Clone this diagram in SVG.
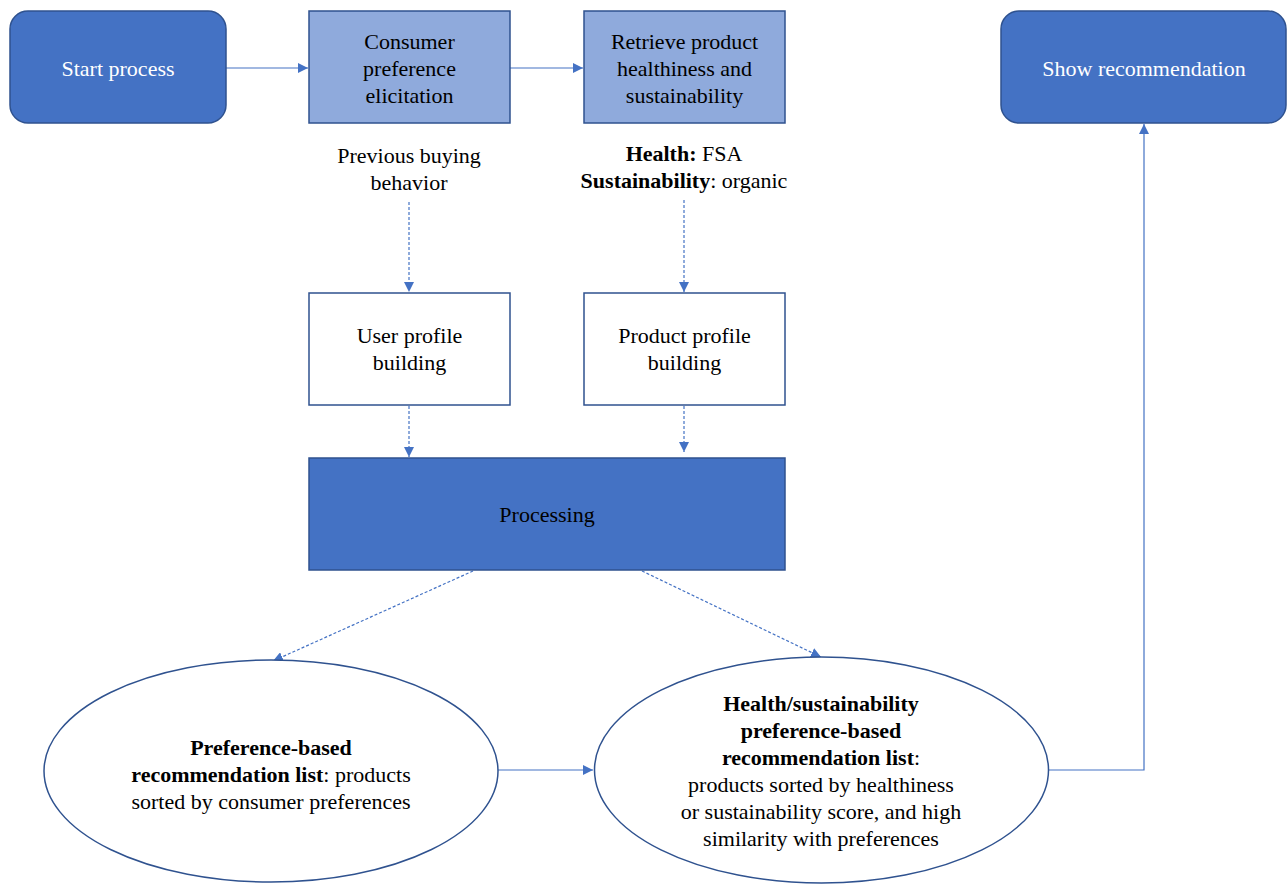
<svg xmlns="http://www.w3.org/2000/svg" width="1287" height="885" viewBox="0 0 1287 885">
<defs>
<style>
text{font-size:22px;text-anchor:middle;fill:#000}
.w{fill:#fff}
.b{font-weight:bold}
.dark{fill:#4472C4;stroke:#2F528F;stroke-width:1.5}
.light{fill:#8FAADC;stroke:#2F528F;stroke-width:1.5}
.white{fill:#fff;stroke:#2F528F;stroke-width:1.5}
.c{fill:none;stroke:#4472C4;stroke-width:1.2}
.d{stroke-dasharray:3 2}
</style>
<marker id="ah" viewBox="0 0 10 10" refX="10" refY="5" markerWidth="10" markerHeight="10" markerUnits="userSpaceOnUse" orient="auto">
<path d="M0,0 L10,5 L0,10 z" fill="#4472C4"/>
</marker>
</defs>
<rect width="1287" height="885" fill="#fff"/>
<g id="connectors">
<path class="c" d="M226,68 H308" marker-end="url(#ah)"/>
<path class="c" d="M510,68 H583" marker-end="url(#ah)"/>
<path class="c d" d="M409,202 V292" marker-end="url(#ah)"/>
<path class="c d" d="M684,200 V292" marker-end="url(#ah)"/>
<path class="c d" d="M409,406 V457" marker-end="url(#ah)"/>
<path class="c d" d="M684,406 V452" marker-end="url(#ah)"/>
<path class="c d" d="M473,571 L273,661" marker-end="url(#ah)"/>
<path class="c d" d="M642,571 L821,657" marker-end="url(#ah)"/>
<path class="c" d="M498,770 H593" marker-end="url(#ah)"/>
<path class="c" d="M1049,770 H1144 V124" marker-end="url(#ah)"/>
</g>
<g font-family="Liberation Serif, Times New Roman, DejaVu Serif, serif">
<g id="start">
<rect class="dark" x="10" y="11" width="216" height="112" rx="18"/>
<text class="w" x="118" y="76">Start process</text>
</g>
<g id="consumer">
<rect class="light" x="309" y="11" width="201" height="112"/>
<text x="409.5" y="49">Consumer</text>
<text x="409.5" y="76">preference</text>
<text x="409.5" y="103">elicitation</text>
</g>
<g id="retrieve">
<rect class="light" x="584" y="11" width="201" height="112"/>
<text x="684.5" y="49">Retrieve product</text>
<text x="684.5" y="76">healthiness and</text>
<text x="684.5" y="103">sustainability</text>
</g>
<g id="show">
<rect class="dark" x="1001" y="11" width="285" height="112" rx="18"/>
<text class="w" x="1144" y="76">Show recommendation</text>
</g>
<g id="previous">
<text x="409" y="163">Previous buying</text>
<text x="409" y="190">behavior</text>
</g>
<g id="health">
<text x="684" y="161"><tspan class="b">Health:</tspan> FSA</text>
<text x="684" y="188"><tspan class="b">Sustainability</tspan>: organic</text>
</g>
<g id="user">
<rect class="white" x="309" y="293" width="201" height="112"/>
<text x="409.5" y="343">User profile</text>
<text x="409.5" y="370">building</text>
</g>
<g id="product">
<rect class="white" x="584" y="293" width="201" height="112"/>
<text x="684.5" y="343">Product profile</text>
<text x="684.5" y="370">building</text>
</g>
<g id="processing">
<rect class="dark" x="309" y="458" width="476" height="112"/>
<text x="547" y="522">Processing</text>
</g>
<g id="prefList">
<ellipse class="white" cx="271" cy="771" rx="227" ry="111"/>
<text x="271" y="755" class="b">Preference-based</text>
<text x="271" y="782"><tspan class="b">recommendation list</tspan>: products</text>
<text x="271" y="809">sorted by consumer preferences</text>
</g>
<g id="healthList">
<ellipse class="white" cx="821.5" cy="770" rx="227" ry="113"/>
<text x="821" y="711" class="b">Health/sustainability</text>
<text x="821" y="738" class="b">preference-based</text>
<text x="821" y="765"><tspan class="b">recommendation list</tspan>:</text>
<text x="821" y="792">products sorted by healthiness</text>
<text x="821" y="819">or sustainability score, and high</text>
<text x="821" y="846">similarity with preferences</text>
</g>
</g>
</svg>
